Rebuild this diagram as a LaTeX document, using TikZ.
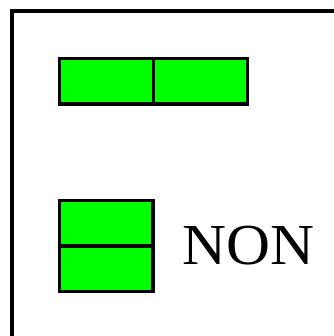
\documentclass[tikz,border=0pt]{standalone}
\usepackage{fontspec}
\setmainfont{Liberation Serif}
\begin{document}
\begin{tikzpicture}[x=1pt,y=1pt,
  cell/.style={draw=black,line width=3.2pt,fill={rgb,255:red,0;green,255;blue,0},inner sep=0pt,minimum width=94pt,minimum height=45.5pt}]
\useasboundingbox (0,0) rectangle (333,-336);
\draw[line width=3.2pt] (12,-345) -- (12,-11) -- (345,-11);
\node[cell] (t1) at (106.75,-81.25) {};
\node[cell] (t2) at (200.75,-81.25) {};
\node[cell,minimum width=93.5pt] (b1) at (106.25,-223.25) {};
\node[cell,minimum width=93.5pt] (b2) at (106.25,-268.75) {};
\node[anchor=base west,inner sep=0pt,font=\fontsize{58}{60}\selectfont] (lab) at (182,-264) {\scalebox{1.05}[1]{NON}};
\end{tikzpicture}
\end{document}
